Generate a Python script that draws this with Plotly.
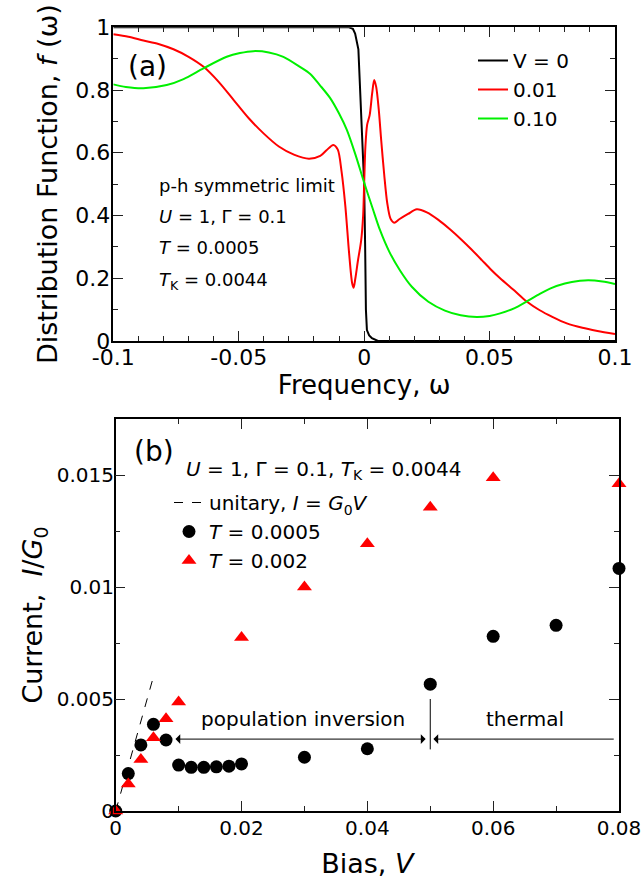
import plotly.graph_objects as go

# ---------------- Panel (a): distribution function ----------------
omega_v0 = [-0.1, -0.02, -0.006, -0.0045, -0.0036, -0.0023, -0.0014, -0.0007, 0.0, 0.0004,
            0.0007, 0.0011, 0.002, 0.0031, 0.0055, 0.02, 0.1]
f_v0 = [1.0, 1.0, 1.0, 0.995, 0.98, 0.93, 0.77, 0.65, 0.5, 0.3,
        0.1, 0.035, 0.018, 0.009, 0.0, 0.0, 0.0]

omega_v001 = [-0.1, -0.094, -0.088, -0.082, -0.076, -0.07, -0.064, -0.058, -0.052, -0.046,
              -0.04, -0.034, -0.028, -0.022, -0.0175, -0.015, -0.0123, -0.0105, -0.009, -0.0075,
              -0.006, -0.0048, -0.0042, -0.0035, -0.0025, -0.0012, -0.0004, 0.0, 0.0005, 0.0012,
              0.0022, 0.0032, 0.004, 0.0048, 0.0058, 0.0068, 0.008, 0.0092, 0.0105, 0.012,
              0.014, 0.0175, 0.021, 0.025, 0.0296, 0.0342, 0.0389, 0.043, 0.0469, 0.0505,
              0.0542, 0.06, 0.0648, 0.07, 0.075, 0.0808, 0.087, 0.093, 0.1]
f_v001 = [0.978, 0.97, 0.958, 0.947, 0.93, 0.906, 0.874, 0.826, 0.768, 0.71,
          0.661, 0.62, 0.594, 0.581, 0.59, 0.608, 0.625, 0.61, 0.54, 0.43,
          0.28, 0.185, 0.17, 0.2, 0.255, 0.32, 0.4, 0.5, 0.62, 0.69,
          0.72, 0.79, 0.832, 0.81, 0.74, 0.64, 0.53, 0.44, 0.39, 0.377,
          0.388, 0.405, 0.42, 0.41, 0.386, 0.356, 0.322, 0.29, 0.258, 0.228,
          0.2, 0.16, 0.126, 0.098, 0.077, 0.056, 0.042, 0.032, 0.022]

omega_v010 = [-0.1, -0.095, -0.088, -0.0787, -0.072, -0.0641, -0.0548, -0.0495, -0.0442, -0.038,
              -0.0322, -0.0256, -0.0216, -0.0176, -0.0136, -0.01, -0.0069, -0.0035, 0.0, 0.0035,
              0.0063, 0.01, 0.0143, 0.019, 0.0256, 0.0322, 0.0385, 0.0449, 0.05, 0.0542,
              0.06, 0.0648, 0.07, 0.0741, 0.08, 0.086, 0.0894, 0.095, 0.1]
f_v010 = [0.818, 0.81, 0.806, 0.816, 0.835, 0.869, 0.906, 0.918, 0.924, 0.92,
          0.906, 0.874, 0.852, 0.815, 0.775, 0.725, 0.673, 0.595, 0.505, 0.42,
          0.354, 0.285, 0.225, 0.173, 0.125, 0.097, 0.082, 0.0765, 0.08, 0.088,
          0.105, 0.126, 0.15, 0.167, 0.183, 0.192, 0.194, 0.19, 0.182]

legend_a_names = ["V = 0", "0.01", "0.10"]

# ---------------- Panel (b): current vs bias ----------------
bias_T0005 = [0.0, 0.002, 0.004, 0.006, 0.008, 0.010, 0.012, 0.014, 0.016, 0.018,
              0.020, 0.030, 0.040, 0.050, 0.060, 0.070, 0.080]
current_T0005 = [0.0, 0.00167, 0.00295, 0.00387, 0.00317, 0.00205, 0.00195, 0.00195, 0.00197, 0.0020,
                 0.0021, 0.0024, 0.00278, 0.00566, 0.0078, 0.00829, 0.01083]

bias_T002 = [0.0, 0.002, 0.004, 0.006, 0.008, 0.010, 0.020, 0.030, 0.040, 0.050, 0.060, 0.080]
current_T002 = [0.0, 0.0012, 0.0023, 0.00327, 0.00412, 0.00487, 0.00774, 0.0100, 0.01193, 0.01356,
                0.01488, 0.01461]

unitary_V = [0.0, 0.006]
unitary_I = [0.0, 0.006]

regime_boundary_V = 0.05
pop_inv_start_V = 0.0095
thermal_end_V = 0.0794
arrow_I = 0.00321

xticks_a = [-0.1, -0.05, 0, 0.05, 0.1]
xticktext_a = ["-0.1", "-0.05", "0", "0.05", "0.1"]

FONT = "DejaVu Sans"
W, H = 644, 879


def px(x):
    return x / W


def py(y):
    return 1 - y / H


fig = go.Figure()

colors_a = ["black", "red", "#00f000"]
shapes_a = ["linear", "spline", "spline"]
for xs, ys, name, c, sh in zip([omega_v0, omega_v001, omega_v010], [f_v0, f_v001, f_v010],
                               legend_a_names, colors_a, shapes_a):
    line = dict(color=c, width=2, shape=sh)
    if sh == "spline":
        line["smoothing"] = 0.8
    fig.add_trace(go.Scatter(x=xs, y=ys, mode="lines", name=name, line=line,
                             xaxis="x", yaxis="y", legend="legend"))

fig.add_trace(go.Scatter(x=unitary_V, y=unitary_I, mode="lines",
                         name="unitary, <i>I</i> = <i>G</i><sub>0</sub><i>V</i>",
                         line=dict(color="black", width=1, dash="dash"),
                         xaxis="x2", yaxis="y2", legend="legend2"))
fig.add_trace(go.Scatter(x=bias_T0005, y=current_T0005, mode="markers",
                         name="<i>T</i> = 0.0005",
                         marker=dict(color="black", size=13, symbol="circle"),
                         cliponaxis=False, xaxis="x2", yaxis="y2", legend="legend2"))
fig.add_trace(go.Scatter(x=bias_T002, y=current_T002, mode="markers",
                         name="<i>T</i> = 0.002",
                         marker=dict(color="red", size=13, symbol="triangle-up"),
                         cliponaxis=False, xaxis="x2", yaxis="y2", legend="legend2"))

axis_common = dict(showline=True, linecolor="black", linewidth=1.5, mirror="ticks",
                   ticks="inside", ticklen=10, tickwidth=1.2, tickcolor="#222",
                   showgrid=False, zeroline=False, automargin=False)

fig.update_layout(
    width=W, height=H,
    margin=dict(l=0, r=0, t=0, b=0),
    paper_bgcolor="white", plot_bgcolor="white",
    font=dict(family=FONT, color="black"),
    xaxis=dict(axis_common, domain=[px(113.3), px(615)], anchor="y", range=[-0.1, 0.1],
               tickmode="array", tickvals=xticks_a, ticktext=xticktext_a,
               tickfont=dict(size=22), ticklabelstandoff=-4,
               minor=dict(tickmode="linear", tick0=0, dtick=0.01, ticks="inside", ticklen=5,
                          tickcolor="#222", tickwidth=1),
               title=dict(text="Frequency, ω", font=dict(size=26), standoff=0)),
    yaxis=dict(axis_common, domain=[py(341), py(27.3)], anchor="x", range=[0, 1],
               dtick=0.2, tick0=0, tickfont=dict(size=22), ticklabelstandoff=-3,
               minor=dict(dtick=0.1, ticks="inside", ticklen=5, tickcolor="#222", tickwidth=1),
               title=dict(text="Distribution Function, <i>f</i> (ω)", font=dict(size=27),
                          standoff=10)),
    xaxis2=dict(axis_common, domain=[px(115.7), px(619)], anchor="y2", range=[0, 0.08],
                dtick=0.02, tick0=0, tickfont=dict(size=20), ticklabelstandoff=-2,
                minor=dict(dtick=0.01, ticks="inside", ticklen=5, tickcolor="#222", tickwidth=1),
                title=dict(text="Bias, <i>V</i>", font=dict(size=27), standoff=16)),
    yaxis2=dict(axis_common, domain=[py(811), py(419)], anchor="x2", range=[0, 0.0175],
                dtick=0.005, tick0=0, tickfont=dict(size=20), ticklabelstandoff=-4,
                minor=dict(dtick=0.0025, ticks="inside", ticklen=5, tickcolor="#222", tickwidth=1),
                title=dict(text="Current,  <i>I</i>/<i>G</i><sub>0</sub>", font=dict(size=27),
                           standoff=6)),
    legend=dict(x=px(473), y=py(41), xanchor="left", yanchor="top", bgcolor="rgba(0,0,0,0)",
                font=dict(size=20, family=FONT)),
    legend2=dict(x=px(169), y=py(483), xanchor="left", yanchor="top", bgcolor="rgba(0,0,0,0)",
                 font=dict(size=20, family=FONT)),
)

ann = []
# panel (a) labels
ann.append(dict(text="(a)", x=px(126), y=py(67), xref="paper", yref="paper", xanchor="left",
                yanchor="middle", showarrow=False, font=dict(size=28)))
a_lines = ["p-h symmetric limit", "<i>U</i> = 1, Γ = 0.1", "<i>T</i> = 0.0005",
           "<i>T</i><sub>K</sub> = 0.0044"]
a_ys = [185, 216, 247, 281]
for t, yy in zip(a_lines, a_ys):
    ann.append(dict(text=t, x=px(157), y=py(yy), xref="paper", yref="paper", xanchor="left",
                    yanchor="middle", showarrow=False, font=dict(size=18)))
# panel (b) labels
ann.append(dict(text="(b)", x=px(132), y=py(452), xref="paper", yref="paper", xanchor="left",
                yanchor="middle", showarrow=False, font=dict(size=28)))
ann.append(dict(text="<i>U</i> = 1, Γ = 0.1, <i>T</i><sub>K</sub> = 0.0044", x=px(184), y=py(470),
                xref="paper", yref="paper", xanchor="left", yanchor="middle", showarrow=False,
                font=dict(size=20)))
ann.append(dict(text="population inversion", x=0.0298, y=0.0041, xref="x2", yref="y2",
                showarrow=False, font=dict(size=20)))
ann.append(dict(text="thermal", x=0.0651, y=0.0041, xref="x2", yref="y2",
                showarrow=False, font=dict(size=20)))
# arrows
ann.append(dict(text="", x=pop_inv_start_V, y=arrow_I, ax=regime_boundary_V - 0.0005, ay=arrow_I,
                xref="x2", yref="y2", axref="x2", ayref="y2", showarrow=True,
                arrowhead=1, startarrowhead=1, arrowside="end+start", arrowsize=1.6,
                startarrowsize=1.6, arrowwidth=1, arrowcolor="black"))
ann.append(dict(text="", x=regime_boundary_V + 0.0005, y=arrow_I, ax=thermal_end_V, ay=arrow_I,
                xref="x2", yref="y2", axref="x2", ayref="y2", showarrow=True,
                arrowhead=1, arrowsize=1.6, arrowwidth=1, arrowcolor="black"))

fig.update_layout(annotations=ann)
fig.add_shape(type="line", x0=regime_boundary_V, x1=regime_boundary_V, y0=0.00275, y1=0.005,
              xref="x2", yref="y2", line=dict(color="black", width=1))

fig.write_html("out.html", config={"displayModeBar": False},
               post_script="document.body.style.margin='0px';")
